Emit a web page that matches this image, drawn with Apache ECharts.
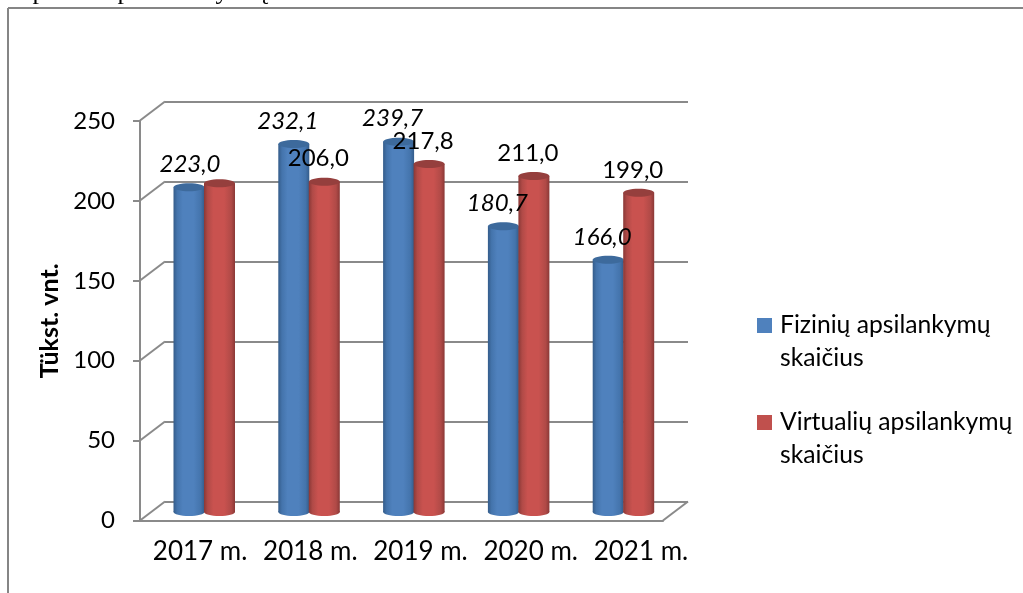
<!DOCTYPE html>
<html><head><meta charset="utf-8">
<script src="https://cdn.jsdelivr.net/npm/echarts@6/dist/echarts.min.js"></script>
<style>html,body{margin:0;padding:0;background:#fff;overflow:hidden}#c{width:1023px;height:593px}</style>
</head><body><div id="c"></div>
<script>
const categories = ['2017 m.','2018 m.','2019 m.','2020 m.','2021 m.'];
const fiziniu = [203.5, 230.5, 232, 179, 158];
const virtualiu = [206, 207, 218, 210.5, 200];
const fiziniuLabels = ['223,0','232,1','239,7','180,7','166,0'];
const virtualiuLabels = ['','206,0','217,8','211,0','199,0'];
const ticks = [0,50,100,150,200,250];
const seriesNames = ['Fizinių apsilankymų','Virtualių apsilankymų'];
const yTitle = 'Tükst. vnt.';
const clippedLine = [['p',39],['p',124],['y',222],['ą',262]];
const FONT = 'Lato, "Open Sans", sans-serif';
const GRAY = '#8a8a8a';

function cylinder(colors, dx){
  return function(params, api){
    const i = api.value(0);
    const c = api.coord([i, api.value(1)]);
    const base = api.coord([i, 0]);
    const x = c[0] + dx, w = 31, rx = w/2, ry = 4;
    const grad = {type:'linear',x:0,y:0,x2:1,y2:0,colorStops:[
      {offset:0,color:colors[0]},{offset:.12,color:colors[1]},{offset:.3,color:colors[2]},
      {offset:.65,color:colors[2]},{offset:.88,color:colors[1]},{offset:1,color:colors[0]}]};
    return {type:'group',children:[
      {type:'ellipse',shape:{cx:x,cy:base[1],rx:rx,ry:ry},style:{fill:grad}},
      {type:'rect',shape:{x:x-rx,y:c[1],width:w,height:base[1]-c[1]},style:{fill:grad}},
      {type:'ellipse',shape:{cx:x,cy:c[1],rx:rx,ry:ry},style:{fill:colors[3]}}
    ]};
  };
}
function labelItem(labels, italic, dx){
  return function(params, api){
    const i = api.value(0);
    if(!labels[i]) return null;
    const c = api.coord([i, api.value(1)]);
    return {type:'text',style:{text:labels[i],x:c[0]+dx-6+(italic&&i===0?7:0),y:c[1]-23,align:'center',verticalAlign:'middle',
      font:(italic?'italic ':'')+'24px '+FONT,fill:'#000'}};
  };
}
const blue = ['#345c8a','#4474ac','#4f81bd','#3d6a9c'];
const red = ['#8a3836','#b04a47','#c9524f','#953f3d'];
const dxBlue = -15, dxRed = 15.5;

const option = {
  animation:false,
  backgroundColor:'#fff',
  textStyle:{fontFamily:FONT},
  grid:[
    {left:140,width:523,top:121,height:399.5},
    {left:165,width:523,top:101.5,height:400},
    {left:151.6,width:524,top:113,height:399},
    {left:145,width:551,top:121,height:399.5}
  ],
  xAxis:[
    {gridIndex:0,type:'category',data:categories,axisLine:{lineStyle:{color:GRAY,width:2}},axisTick:{show:false},axisLabel:{show:false}},
    {gridIndex:1,type:'category',data:categories,axisLine:{show:false},axisTick:{show:false},axisLabel:{show:false}},
    {gridIndex:2,type:'category',data:categories,axisLine:{show:false},axisTick:{show:false},axisLabel:{show:false}},
    {gridIndex:3,type:'category',data:categories,axisLine:{show:false},axisTick:{show:false},
      axisLabel:{color:'#000',fontSize:26,fontFamily:FONT,margin:18,interval:0}}
  ],
  yAxis:[
    {gridIndex:0,type:'value',min:0,max:250,interval:50,
     name:yTitle,nameLocation:'middle',nameRotate:90,nameGap:76,
     nameTextStyle:{color:'#000',fontSize:25,fontWeight:'bold',fontFamily:FONT},
     axisLine:{show:true,lineStyle:{color:GRAY,width:2}},axisTick:{show:true,length:7,lineStyle:{color:GRAY,width:2}},
     splitLine:{show:false},axisLabel:{color:'#000',fontSize:24,fontFamily:FONT,margin:25}},
    {gridIndex:1,type:'value',min:0,max:250,interval:50,axisLine:{show:false},axisTick:{show:false},axisLabel:{show:false},
     splitLine:{show:true,lineStyle:{color:GRAY,width:2}}},
    {gridIndex:2,type:'value',min:0,max:250,interval:50,axisLine:{show:false},axisTick:{show:false},axisLabel:{show:false},splitLine:{show:false}},
    {gridIndex:3,type:'value',min:0,max:250,show:false}
  ],
  legend:{
    left:752,top:271,orient:'vertical',itemWidth:15,itemHeight:15,itemGap:-2,icon:'rect',
    formatter:function(n){return '\n'+n+'\nskaičius';},
    textStyle:{color:'#000',fontSize:24.7,fontFamily:FONT,lineHeight:33,padding:[0,0,0,3]},
    data:seriesNames
  },
  graphic:[
    {type:'line',silent:true,shape:{x1:8,y1:8,x2:1023,y2:8},style:{stroke:'#858585',lineWidth:2}},
    {type:'line',silent:true,shape:{x1:8,y1:8,x2:8,y2:593},style:{stroke:'#858585',lineWidth:2}}
  ].concat(clippedLine.map(function(g){return {type:'text',silent:true,style:{text:g[0],x:g[1],y:-8,align:'center',verticalAlign:'middle',
      font:'26px "Liberation Serif"',fill:'#000'}};})),
  series:[
    {type:'custom',silent:true,xAxisIndex:1,yAxisIndex:1,z:1,
     data:ticks.map(t=>[0,t]),encode:{x:0,y:1},
     renderItem:function(p,api){
       const y=api.coord([0,api.value(1)])[1];
       const x=165;
       const items=[{type:'line',shape:{x1:x,y1:y,x2:x-25,y2:y+19},style:{stroke:GRAY,lineWidth:2}}];
       if(api.value(1)===0) items.push({type:'line',shape:{x1:688,y1:y,x2:663,y2:y+19},style:{stroke:GRAY,lineWidth:2}});
       return {type:'group',children:items};
     }},
    {name:seriesNames[0],type:'custom',silent:true,xAxisIndex:2,yAxisIndex:2,z:3,itemStyle:{color:'#4f81bd'},
     data:categories.map((c,i)=>[i,fiziniu[i]]),encode:{x:0,y:1},
     renderItem:cylinder(blue,dxBlue)},
    {name:seriesNames[1],type:'custom',silent:true,xAxisIndex:2,yAxisIndex:2,z:4,itemStyle:{color:'#c0504d'},
     data:categories.map((c,i)=>[i,virtualiu[i]]),encode:{x:0,y:1},
     renderItem:cylinder(red,dxRed)},
    {type:'custom',silent:true,xAxisIndex:2,yAxisIndex:2,z:5,
     data:categories.map((c,i)=>[i,fiziniu[i]]),encode:{x:0,y:1},
     renderItem:labelItem(fiziniuLabels,true,dxBlue)},
    {type:'custom',silent:true,xAxisIndex:2,yAxisIndex:2,z:5,
     data:categories.map((c,i)=>[i,virtualiu[i]]),encode:{x:0,y:1},
     renderItem:labelItem(virtualiuLabels,false,dxRed)}
  ]
};
echarts.init(document.getElementById('c')).setOption(option);
</script></body></html>
